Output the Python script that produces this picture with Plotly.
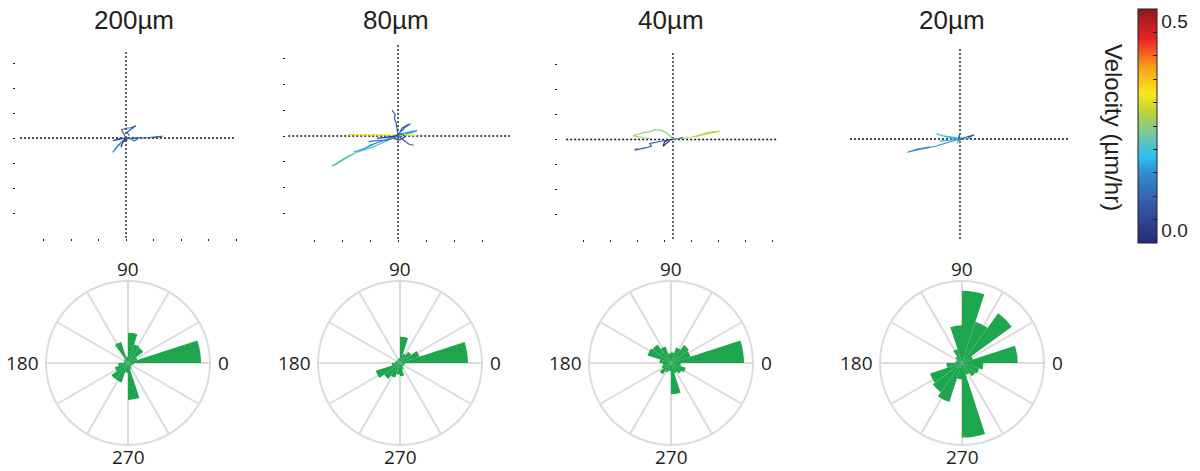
import plotly.graph_objects as go
from plotly.colors import sample_colorscale

W, H = 1200, 471

# ---------------- data ----------------
panel_titles = ["200µm", "80µm", "40µm", "20µm"]

# velocity colour scale (µm/hr)
VEL_MIN, VEL_MAX = -0.03, 0.53
vel_stops = [0.0, 0.15, 0.30, 0.37, 0.46, 0.57, 0.64, 0.75, 0.87, 1.0]
vel_colors = ["#262a78", "#3653a3", "#2f8fd0", "#2ec0ee", "#74c6a6",
              "#c4d631", "#f6e81b", "#f8a11c", "#ec2227", "#8a1a1d"]
cbar_label_vals = [0.0, 0.5]
cbar_label_text = ["0.0", "0.5"]

# tracks: (velocity, x list, y list) in µm, per panel
tracks_200 = [
    (0.06, [0, 18, 42, 67, 91, 109, 133, 115, 97], [0, -1, 1, 0, 3, 4, 7, 3, 1]),
    (0.07, [0, -8, -16, 0, 18, 36, 21, 4, 12], [0, 16, 33, 39, 41, 49, 36, 23, 9]),
    (0.14, [0, -12, -28, -40, -48, -33, -18], [0, -11, -28, -44, -57, -37, -20]),
    (0.01, [0, -8, -16, -18, -12, 4, 8], [0, -11, -28, -37, -17, -4, 1]),
    (0.05, [0, -18, -36, -48, -30, -12], [0, -4, -8, -11, -4, 1]),
    (0.08, [0, 18, 30, 42, 24], [0, -4, -11, -4, 3]),
]
tracks_80 = [
    (0.21, [0, -27, -57, -93, -123, -152, -182, -206, -236, -218, -188, -158],
           [0, -13, -26, -44, -55, -65, -81, -96, -117, -109, -87, -70]),
    (0.15, [0, -33, -63, -99, -117, -146, -158, -129, -105, -75, -39],
           [0, -9, -22, -35, -48, -57, -62, -52, -42, -26, -13]),
    (0.33, [68, 30, 0, -39, -99, -146, -176], [3, 3, 3, 4, 4, 5, 5]),
    (0.00, [0, -27, -51, -75, -45, -15, 14, 26, 2, -15], [0, -3, -5, -9, -6, -1, 10, -3, -16, -9]),
    (0.07, [0, -4, -6, -13, -10, -21], [0, 23, 49, 68, 82, 101]),
    (0.16, [0, 20, 44, 68, 50, 26], [0, 10, 17, 21, 13, 7]),
    (0.08, [0, 14, 32, 44, 26, 11], [0, 30, 43, 47, 34, 17]),
    (0.06, [0, 20, 38, 56], [0, -16, -31, -36]),
    (0.10, [0, -39, -75, -105], [0, -16, -18, -22]),
]
tracks_40 = [
    (0.25, [0, -10, -25, -43, -68, -86, -105, -123, -148, -130, -105, -86],
           [0, 13, 27, 37, 40, 31, 29, 24, 15, 11, 8, 3]),
    (0.28, [0, 31, 62, 93, 124, 148, 173, 148, 117, 86], [0, 4, 8, 16, 27, 31, 33, 27, 21, 11]),
    (0.06, [-12, -37, -62, -86, -80, -99, -124, -142, -133], [0, -7, -11, -16, -27, -33, -39, -43, -36]),
    (0.00, [0, -19, -31, -37, -25, -12], [0, -3, -9, -27, -16, -5]),
    (0.12, [0, 19, 37, 25], [0, 5, 8, 3]),
]
tracks_20 = [
    (0.13, [0, -24, -54, -85, -121, -157, -191, -157, -109], [0, -7, -17, -28, -35, -44, -53, -41, -31]),
    (0.17, [0, -30, -61, -85, -54, -24, 24, 36], [3, 7, 13, 20, 9, 1, 0, 1]),
    (0.04, [0, 18, 36, 51, 30], [0, 7, 12, 16, 5]),
    (0.22, [0, -6, -12, -2, 6], [0, -8, -17, -4, 9]),
    (0.00, [-2, -6, 6], [16, -4, -1]),
    (0.16, [0, -36, -73, -48], [0, -4, -9, -4]),
]
all_tracks = [tracks_200, tracks_80, tracks_40, tracks_20]

# rose diagrams: 20 bins of 18 degrees, fraction of outer circle
rose_theta = list(range(9, 360, 18))
rose_200 = [0.89, 0.12, 0.23, 0.24, 0.37, 0.08, 0.27, 0.06, 0.05, 0.05,
            0.12, 0.17, 0.25, 0.25, 0.12, 0.45, 0.08, 0.05, 0.05, 0.07]
rose_80 = [0.83, 0.25, 0.17, 0.12, 0.32, 0.06, 0.05, 0.04, 0.05, 0.06,
           0.10, 0.31, 0.24, 0.19, 0.14, 0.16, 0.08, 0.05, 0.05, 0.06]
rose_40 = [0.89, 0.25, 0.27, 0.20, 0.13, 0.12, 0.21, 0.28, 0.30, 0.14,
           0.10, 0.12, 0.17, 0.12, 0.10, 0.38, 0.13, 0.16, 0.19, 0.12]
rose_20 = [0.68, 0.14, 0.75, 0.53, 0.88, 0.46, 0.18, 0.10, 0.07, 0.08,
           0.19, 0.41, 0.44, 0.50, 0.20, 0.91, 0.15, 0.20, 0.22, 0.26]
all_roses = [rose_200, rose_80, rose_40, rose_20]
angle_ticks = list(range(0, 360, 30))
angle_labels = ["0", "90", "180", "270"]

# axis ticks per panel
x_ticks = [[-300, -200, -100, 0, 100, 200, 300, 400],
           [-300, -200, -100, 0, 100, 200, 300],
           [-333, -233, -133, -33, 67, 167, 267, 367],
           []]
y_ticks = [[-300, -200, -100, 0, 100, 200, 300],
           [-300, -200, -100, 0, 100, 200, 300],
           [-300, -200, -100, 0, 100, 200, 300],
           []]

# ---------------- layout geometry ----------------
panels = [
    dict(xpx=(16, 236), ypx=(38, 238), xr=(-400, 400), yr=(-400, 400), h0=0.018, vtop=0.94),
    dict(xpx=(286, 510), ypx=(33, 239), xr=(-400, 400), yr=(-400, 400), h0=0.01, vtop=0.95),
    dict(xpx=(558, 778), ypx=(40, 239), xr=(-426, 389), yr=(-400, 400), h0=0.037, vtop=0.94),
    dict(xpx=(850, 1070), ypx=(39, 239), xr=(-400, 400), yr=(-400, 400), h0=0.0, vtop=0.955),
]
title_x = [134, 396, 671, 952]
polar_cx = [128, 400, 671, 962]
polar_cy, polar_R = 363, 82

colorscale = []
for s, c in zip(vel_stops, vel_colors):
    r, g, b = int(c[1:3], 16), int(c[3:5], 16), int(c[5:7], 16)
    colorscale.append([s, f"rgb({r},{g},{b})"])

INK = "#231f20"
fig = go.Figure()
layout = dict(width=W, height=H, margin=dict(l=0, r=0, t=0, b=0),
              paper_bgcolor="white", plot_bgcolor="white", showlegend=False,
              shapes=[], annotations=[])

for i, p in enumerate(panels):
    n = "" if i == 0 else str(i + 1)
    layout["xaxis" + n] = dict(
        domain=[p["xpx"][0] / W, p["xpx"][1] / W], range=list(p["xr"]),
        anchor="y" + n, showgrid=False, zeroline=False, showline=False,
        showticklabels=False, tickmode="array", tickvals=x_ticks[i],
        ticks="outside" if x_ticks[i] else "", ticklen=2, tickwidth=1, tickcolor=INK,
        fixedrange=True)
    layout["yaxis" + n] = dict(
        domain=[1 - p["ypx"][1] / H, 1 - p["ypx"][0] / H], range=list(p["yr"]),
        anchor="x" + n, showgrid=False, zeroline=False, showline=False,
        showticklabels=False, tickmode="array", tickvals=y_ticks[i],
        ticks="outside" if y_ticks[i] else "", ticklen=2, tickwidth=1, tickcolor=INK,
        fixedrange=True)
    dot = dict(color="#111111", width=1.3, dash="2px,2px")
    layout["shapes"].append(dict(type="line", layer="below", xref=f"x{n} domain", yref=f"y{n}",
                                 x0=p["h0"], x1=1, y0=0, y1=0, line=dot))
    layout["shapes"].append(dict(type="line", layer="below", xref=f"x{n}", yref=f"y{n} domain",
                                 x0=0, x1=0, y0=0, y1=p["vtop"], line=dot))
    # tracks
    for vel, xs, ys in all_tracks[i]:
        col = sample_colorscale(colorscale, [(vel - VEL_MIN) / (VEL_MAX - VEL_MIN)])[0]
        fig.add_trace(go.Scatter(x=xs, y=ys, mode="lines", xaxis="x" + n, yaxis="y" + n,
                                 line=dict(color=col, width=1.2), hoverinfo="skip"))
    # title
    layout["annotations"].append(dict(text=panel_titles[i], x=title_x[i] / W, y=1 - 20 / H,
                                      xref="paper", yref="paper", showarrow=False,
                                      xanchor="center", yanchor="middle",
                                      font=dict(family="Liberation Sans", size=26, color=INK)))
    # rose diagram
    cx = polar_cx[i]
    layout["polar" + n] = dict(
        domain=dict(x=[(cx - polar_R) / W, (cx + polar_R) / W],
                    y=[1 - (polar_cy + polar_R) / H, 1 - (polar_cy - polar_R) / H]),
        bgcolor="white",
        radialaxis=dict(visible=False, range=[0, 1], showgrid=False, showline=False),
        angularaxis=dict(rotation=0, direction="counterclockwise", tickmode="array",
                         tickvals=angle_ticks, showticklabels=False, ticks="",
                         showline=True, linecolor="#dcdcdc", linewidth=2,
                         gridcolor="#dcdcdc", gridwidth=2))
    fig.add_trace(go.Barpolar(r=all_roses[i], theta=rose_theta, width=[18] * len(rose_theta),
                              subplot="polar" + n, marker=dict(color="#1ea64f", line=dict(width=0)),
                              hoverinfo="skip"))
    # angular labels placed just outside the circle
    lab_font = dict(family="Open Sans", size=19, color=INK)
    lab_pos = [  # (x px, y px, xanchor)
        (cx + polar_R + 6, polar_cy, "left"),
        (cx, polar_cy - polar_R - 12, "center"),
        (cx - polar_R - 5, polar_cy, "right"),
        (cx, polar_cy + polar_R + 12, "center"),
    ]
    for txt, (lx, ly, xa) in zip(angle_labels, lab_pos):
        layout["annotations"].append(dict(text=txt, x=lx / W, y=1 - ly / H, xref="paper",
                                          yref="paper", showarrow=False, xanchor=xa,
                                          yanchor="middle", font=lab_font))

# colour bar (labels layer, then tick layer on top)
cb_common = dict(x=1138 / W, xanchor="left", xpad=0, y=1 - 126 / H, yanchor="middle", ypad=0,
                 len=234, lenmode="pixels", thickness=19, thicknessmode="pixels",
                 tickfont=dict(family="Liberation Sans", size=19, color=INK))
minor_ticks = [VEL_MIN + k * (VEL_MAX - VEL_MIN) / 10 for k in range(1, 10)]
fig.add_trace(go.Scatter(x=[0], y=[0], xaxis="x4", yaxis="y4", mode="markers", hoverinfo="skip",
                         marker=dict(size=1, opacity=0, color=[0.2], colorscale=colorscale,
                                     cmin=VEL_MIN, cmax=VEL_MAX, showscale=True,
                                     colorbar=dict(**cb_common, outlinewidth=0, ticks="",
                                                   tickmode="array", tickvals=cbar_label_vals,
                                                   ticktext=cbar_label_text))))
fig.add_trace(go.Scatter(x=[0], y=[0], xaxis="x4", yaxis="y4", mode="markers", hoverinfo="skip",
                         marker=dict(size=1, opacity=0, color=[0.2], colorscale=colorscale,
                                     cmin=VEL_MIN, cmax=VEL_MAX, showscale=True,
                                     colorbar=dict(**cb_common, outlinewidth=1, outlinecolor=INK,
                                                   ticks="inside", ticklen=4, tickcolor=INK,
                                                   tickmode="array", tickvals=minor_ticks,
                                                   showticklabels=False))))
layout["annotations"].append(dict(text="Velocity (µm/hr)", x=1113 / W, y=1 - 127 / H,
                                  xref="paper", yref="paper", showarrow=False, textangle=90,
                                  xanchor="center", yanchor="middle",
                                  font=dict(family="Liberation Sans", size=24, color=INK)))

fig.update_layout(**layout)
fig.write_html("out.html")
